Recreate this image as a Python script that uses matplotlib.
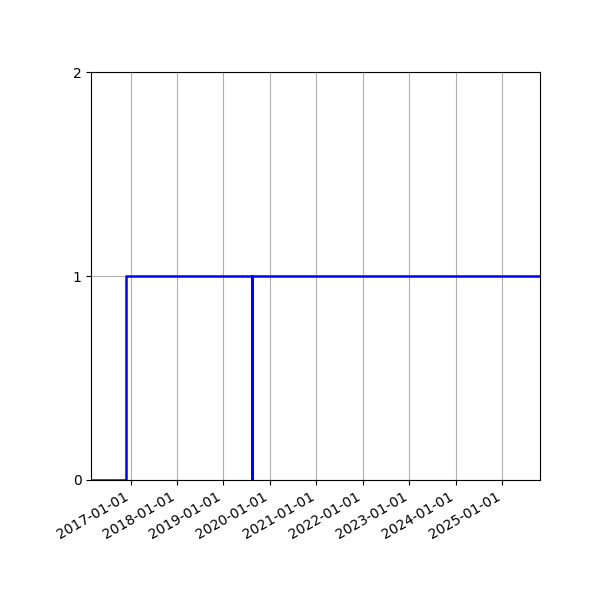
import matplotlib
matplotlib.use("Agg")
import matplotlib.pyplot as plt
import matplotlib.dates as mdates
import numpy as np

# step points (state changes)
dates = np.array(["2016-02-27", "2016-11-26", "2019-08-12", "2019-08-14", "2025-10-26"],
                 dtype="datetime64[D]")
values = [0, 1, 0, 1, 1]

x_start = np.datetime64("2016-02-27")
x_end = np.datetime64("2025-10-24")
year_ticks = np.array([f"{y}-01-01" for y in range(2017, 2026)], dtype="datetime64[D]")

fig, ax = plt.subplots(figsize=(6, 6), dpi=100)
ax.plot(dates, values, drawstyle="steps-post", color="blue", linewidth=1.8)

ax.set_xlim(x_start, x_end)
ax.set_ylim(0, 2)
ax.set_yticks([0, 1, 2])
ax.set_xticks(year_ticks)
ax.xaxis.set_major_formatter(mdates.DateFormatter("%Y-%m-%d"))
ax.grid(True, color="#b0b0b0", linewidth=0.8)
fig.autofmt_xdate()
fig.subplots_adjust(left=0.152, right=0.9, top=0.88, bottom=0.2)

plt.savefig("out.png")
